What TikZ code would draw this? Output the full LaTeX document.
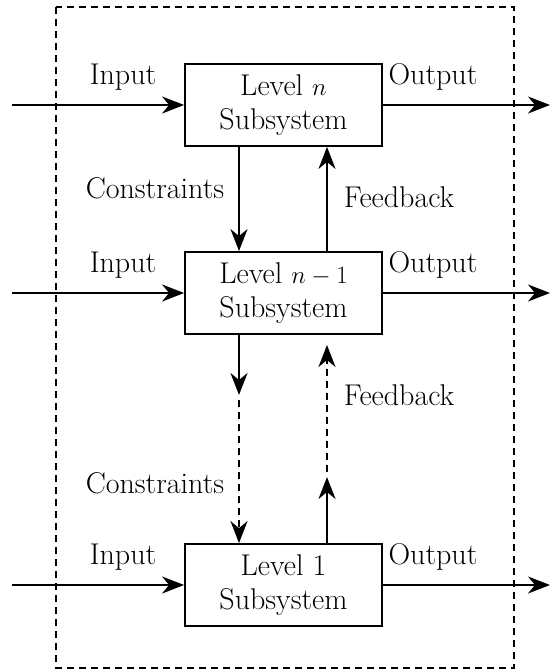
\documentclass[tikz,border=0pt]{standalone}
\usetikzlibrary{arrows.meta}
\begin{document}
\begin{tikzpicture}[x=1pt,y=-1pt,
  font=\fontsize{30}{34}\selectfont,
  sysbox/.style={draw,line width=1.8pt,minimum width=197pt,minimum height=82pt,align=center,inner sep=0pt},
  conn/.style={line width=2pt,-{Stealth[length=22pt,width=17pt,inset=7pt]}},
  dashconn/.style={line width=2.8pt,dash pattern=on 7pt off 5pt,-{Stealth[length=22pt,width=17pt,inset=7pt]}},
  frame/.style={line width=1.3pt,dash pattern=on 7pt off 5pt},
  lbl/.style={anchor=base,inner sep=0pt}]
\useasboundingbox (0,0) rectangle (551,670);
\draw[frame] (56,7) rectangle (514,668);
% boxes
\node[sysbox] (b1) at (283.5,105) {Level $n$\\Subsystem};
\node[sysbox] (b2) at (283.5,293) {Level $n-1$\\Subsystem};
\node[sysbox] (b3) at (283.5,585) {Level 1\\Subsystem};
% free ends
\coordinate (i1) at (12,105);
\coordinate (o1) at (550,105);
\coordinate (i2) at (12,293);
\coordinate (o2) at (550,293);
\coordinate (i3) at (12,585);
\coordinate (o3) at (550,585);
% inputs / outputs
\draw[conn] (i1) -- (b1.west);
\draw[conn] (b1.east) -- (o1);
\draw[conn] (i2) -- (b2.west);
\draw[conn] (b2.east) -- (o2);
\draw[conn] (i3) -- (b3.west);
\draw[conn] (b3.east) -- (o3);
% level n <-> level n-1
\draw[conn] (b1.south -| 239,0) -- (b2.north -| 239,0);
\draw[conn] (b2.north -| 327,0) -- (b1.south -| 327,0);
% level n-1 <-> level 1
\coordinate (dtip) at (239,395);
\coordinate (dstart) at (239,400);
\coordinate (utip) at (327,477);
\coordinate (ustart) at (327,472);
\coordinate (uend) at (327,345);
\draw[conn] (b2.south -| dtip) -- (dtip);
\draw[dashconn] (dstart) -- (b3.north -| dstart);
\draw[conn] (b3.north -| utip) -- (utip);
\draw[dashconn] (ustart) -- (uend);
% labels
\node[lbl] (li1) at (123,84) {Input};
\node[lbl] (lo1) at (433,84) {Output};
\node[lbl] (li2) at (123,272) {Input};
\node[lbl] (lo2) at (433,272) {Output};
\node[lbl] (li3) at (123,564) {Input};
\node[lbl] (lo3) at (433,564) {Output};
\node[lbl] (lc1) at (155,198) {Constraints};
\node[lbl] (lf1) at (399,207) {Feedback};
\node[lbl] (lc2) at (155,493) {Constraints};
\node[lbl] (lf2) at (399,405) {Feedback};
\end{tikzpicture}
\end{document}
